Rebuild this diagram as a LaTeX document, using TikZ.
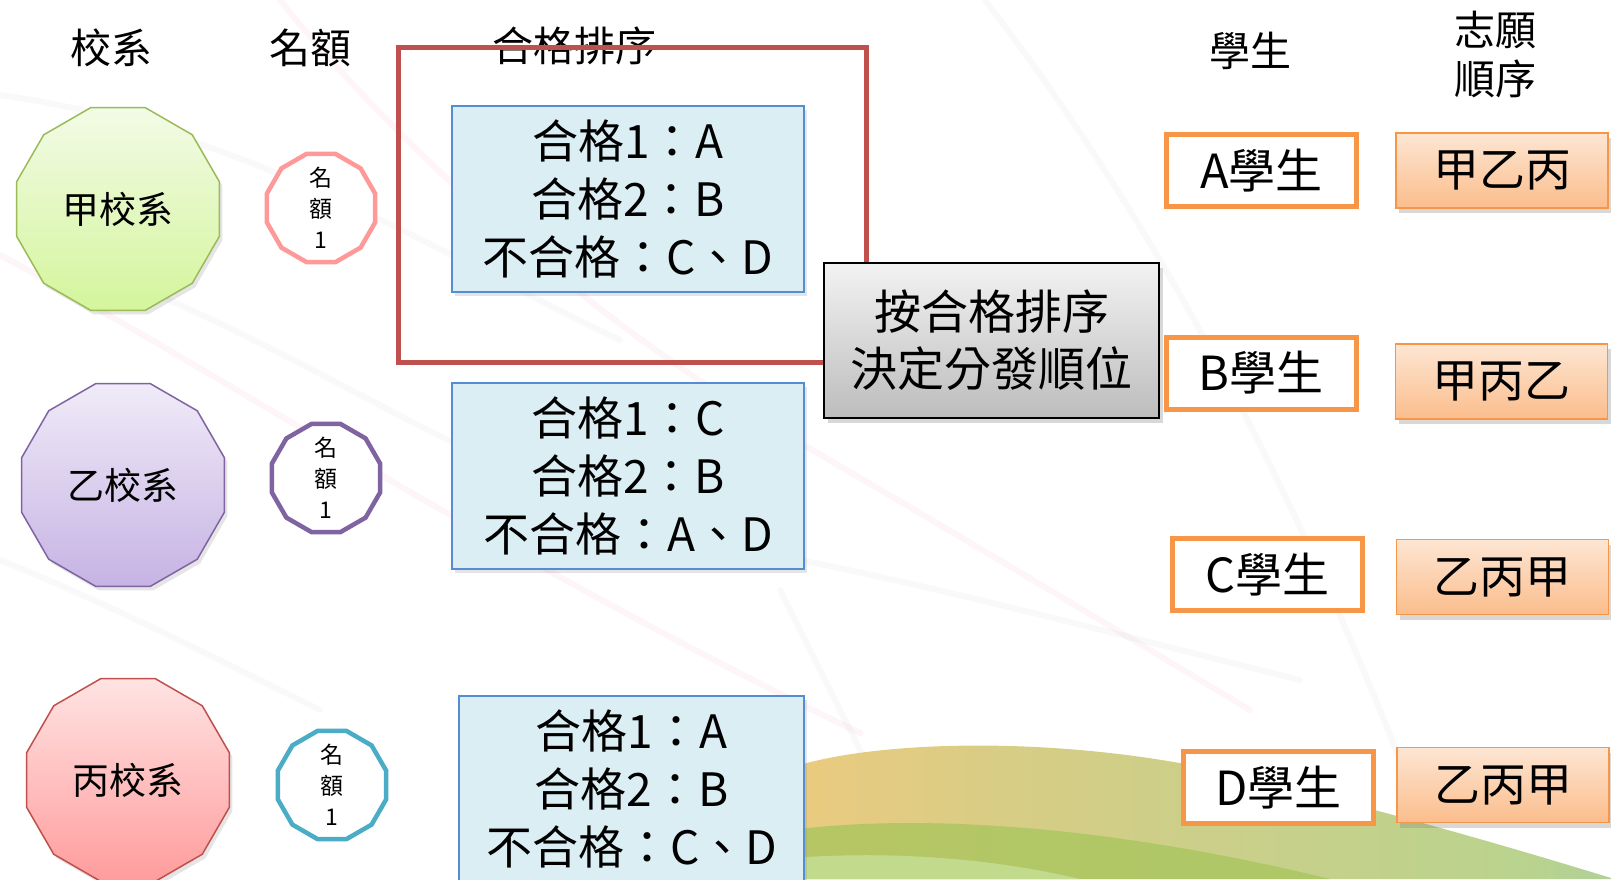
\documentclass[tikz,border=0pt]{standalone}
\usepackage{fontspec}
\setmainfont{Noto Sans CJK TC}
\usetikzlibrary{shapes.geometric,shadows}

\definecolor{jiaLine}{HTML}{9BBB59}
\definecolor{jiaTop}{HTML}{F2FBE6}
\definecolor{jiaBot}{HTML}{D4F59C}
\definecolor{yiLine}{HTML}{8064A2}
\definecolor{yiTop}{HTML}{F0EBF8}
\definecolor{yiBot}{HTML}{C6B3E4}
\definecolor{bingLine}{HTML}{C0504D}
\definecolor{bingTop}{HTML}{FFE3E3}
\definecolor{bingBot}{HTML}{FF9C9C}
\definecolor{quotaPink}{HTML}{FF9999}
\definecolor{quotaTeal}{HTML}{4BACC6}
\definecolor{rankBlue}{HTML}{558CD2}
\definecolor{rankFill}{HTML}{DAEEF3}
\definecolor{frameRed}{HTML}{C0504D}
\definecolor{stuOrange}{HTML}{F79646}
\definecolor{wishTop}{HTML}{FDE6D3}
\definecolor{wishBot}{HTML}{FBBD8C}
\definecolor{bgPink}{HTML}{F2B8C6}
\definecolor{bgGray}{HTML}{C9D6CB}
\definecolor{waveA}{HTML}{F2AE74}
\definecolor{waveB}{HTML}{F6C97C}
\definecolor{waveC}{HTML}{D5CD86}
\definecolor{waveD}{HTML}{B9D38E}
\definecolor{waveE}{HTML}{86C3CF}
\definecolor{bandDark}{HTML}{A7C55C}
\definecolor{bandLight}{HTML}{C4DE93}

\pgfdeclarehorizontalshading{wave}{100bp}{color(0bp)=(waveA); color(18bp)=(waveB);
  color(40bp)=(waveC); color(70bp)=(waveD); color(100bp)=(waveE)}

\tikzset{
  hdr/.style={inner sep=0pt, font=\fontsize{41}{49}\selectfont, align=center},
  school/.style={regular polygon, regular polygon sides=12, minimum size=210pt,
    inner sep=0pt, line width=1.5pt, font=\fontsize{37}{44}\selectfont,
    drop shadow={shadow xshift=3pt, shadow yshift=-4pt, opacity=0.2}},
  quota/.style={regular polygon, regular polygon sides=12, minimum size=112pt,
    inner sep=-14pt, line width=4.5pt, fill=white, align=center,
    font=\fontsize{23}{31}\selectfont},
  rankbox/.style={draw=rankBlue, line width=1.5pt, fill=rankFill, inner sep=0pt,
    minimum width=352pt, minimum height=186pt, align=center,
    font=\fontsize{46}{58}\selectfont,
    drop shadow={shadow xshift=3pt, shadow yshift=-4pt, opacity=0.2}},
  orderbox/.style={draw=black, line width=2pt, top color=black!5, bottom color=black!26,
    inner sep=0pt, minimum width=335pt, minimum height=155pt, align=center,
    font=\fontsize{47}{57}\selectfont,
    drop shadow={shadow xshift=4pt, shadow yshift=-5pt, opacity=0.3}},
  stubox/.style={draw=stuOrange, line width=5pt, fill=white, inner sep=0pt,
    minimum width=190pt, minimum height=72pt, font=\fontsize{47}{56}\selectfont},
  wishbox/.style={draw=stuOrange, line width=1.5pt, top color=wishTop, bottom color=wishBot,
    inner sep=0pt, minimum width=212pt, minimum height=75pt,
    font=\fontsize{46}{56}\selectfont,
    drop shadow={shadow xshift=3pt, shadow yshift=-5pt, opacity=0.3}},
  bgline/.style={line width=6pt, opacity=0.13, line cap=round}
}

\begin{document}
\begin{tikzpicture}[x=1pt,y=-1pt]
\fill[white] (0,0) rectangle (1611,879);
\useasboundingbox (0,0) rectangle (1611,879);

% background of the slide
\begin{scope}
  \clip (0,0) rectangle (1611,879);
  \draw[bgline, bgPink] (280,0) .. controls (400,150) and (600,330) .. (807,447)
    .. controls (950,530) and (1100,620) .. (1250,710);
  \draw[bgline, bgPink] (0,255) .. controls (200,360) and (500,560) .. (860,733);
  \draw[bgline, bgGray] (0,95) .. controls (250,130) and (450,260) .. (620,340);
  \draw[bgline, bgGray] (120,280) .. controls (250,330) and (400,420) .. (470,450);
  \draw[bgline, bgGray] (0,560) .. controls (100,600) and (200,650) .. (320,710);
  \draw[bgline, bgGray] (800,560) .. controls (950,590) and (1100,630) .. (1300,680);
  \draw[bgline, bgGray] (985,0) .. controls (1100,150) and (1250,380) .. (1400,760);
  \draw[bgline, bgGray] (780,590) .. controls (810,650) and (840,710) .. (870,770);
  \shade[shading=wave]
    (790,768) .. controls (880,738) and (1080,735) .. (1250,778)
    .. controls (1400,815) and (1520,850) .. (1611,878) -- (1611,879) -- (790,879) -- cycle;
  \fill[bandDark, opacity=0.75]
    (790,830) .. controls (950,810) and (1150,835) .. (1330,879) -- (790,879) -- cycle;
  \fill[bandLight, opacity=0.85]
    (790,858) .. controls (900,850) and (1000,860) .. (1080,879) -- (790,879) -- cycle;
\end{scope}

% column headers
\node[hdr] (hschool) at (111,48) {校系};
\node[hdr] (hquota) at (310,48) {名額};
\node[hdr] (hrank) at (574,46) {合格排序};
\node[hdr] (hstudent) at (1250,51) {學生};
\node[hdr] (hwish) at (1495,54) {志願\\順序};

% frame around the first ranking
\node[draw=frameRed, line width=5pt, minimum width=468pt, minimum height=315pt,
  inner sep=0pt] (frame) at (632,204.5) {};

% schools and quotas
\node[school, draw=jiaLine, top color=jiaTop, bottom color=jiaBot] (jia) at (118,209) {甲校系};
\node[school, draw=yiLine, top color=yiTop, bottom color=yiBot] (yi) at (123,485) {乙校系};
\node[school, draw=bingLine, top color=bingTop, bottom color=bingBot] (bing) at (128,780) {丙校系};

\node[quota, draw=quotaPink] (qjia) at (321,208) {名\\額\\1};
\node[quota, draw=yiLine] (qyi) at (326,478) {名\\額\\1};
\node[quota, draw=quotaTeal] (qbing) at (332,785) {名\\額\\1};

% rankings
\node[rankbox] (rjia) at (628,199) {合格1：A\\合格2：B\\不合格：C、D};
\node[rankbox] (ryi) at (628,476) {合格1：C\\合格2：B\\不合格：A、D};
\node[rankbox, minimum width=345pt] (rbing) at (631.5,789) {合格1：A\\合格2：B\\不合格：C、D};

\node[orderbox] (order) at (991.5,340.5) {按合格排序\\決定分發順位};

% students and their wishes
\node[stubox] (sa) at (1261.5,170.5) {A學生};
\node[stubox] (sb) at (1261,373) {B學生};
\node[stubox] (sc) at (1267,574.5) {C學生};
\node[stubox] (sd) at (1278.5,787.5) {D學生};

\node[wishbox] (wa) at (1502,170.5) {甲乙丙};
\node[wishbox] (wb) at (1501.5,381.5) {甲丙乙};
\node[wishbox] (wc) at (1502.5,577) {乙丙甲};
\node[wishbox] (wd) at (1503,785) {乙丙甲};
\end{tikzpicture}
\end{document}
